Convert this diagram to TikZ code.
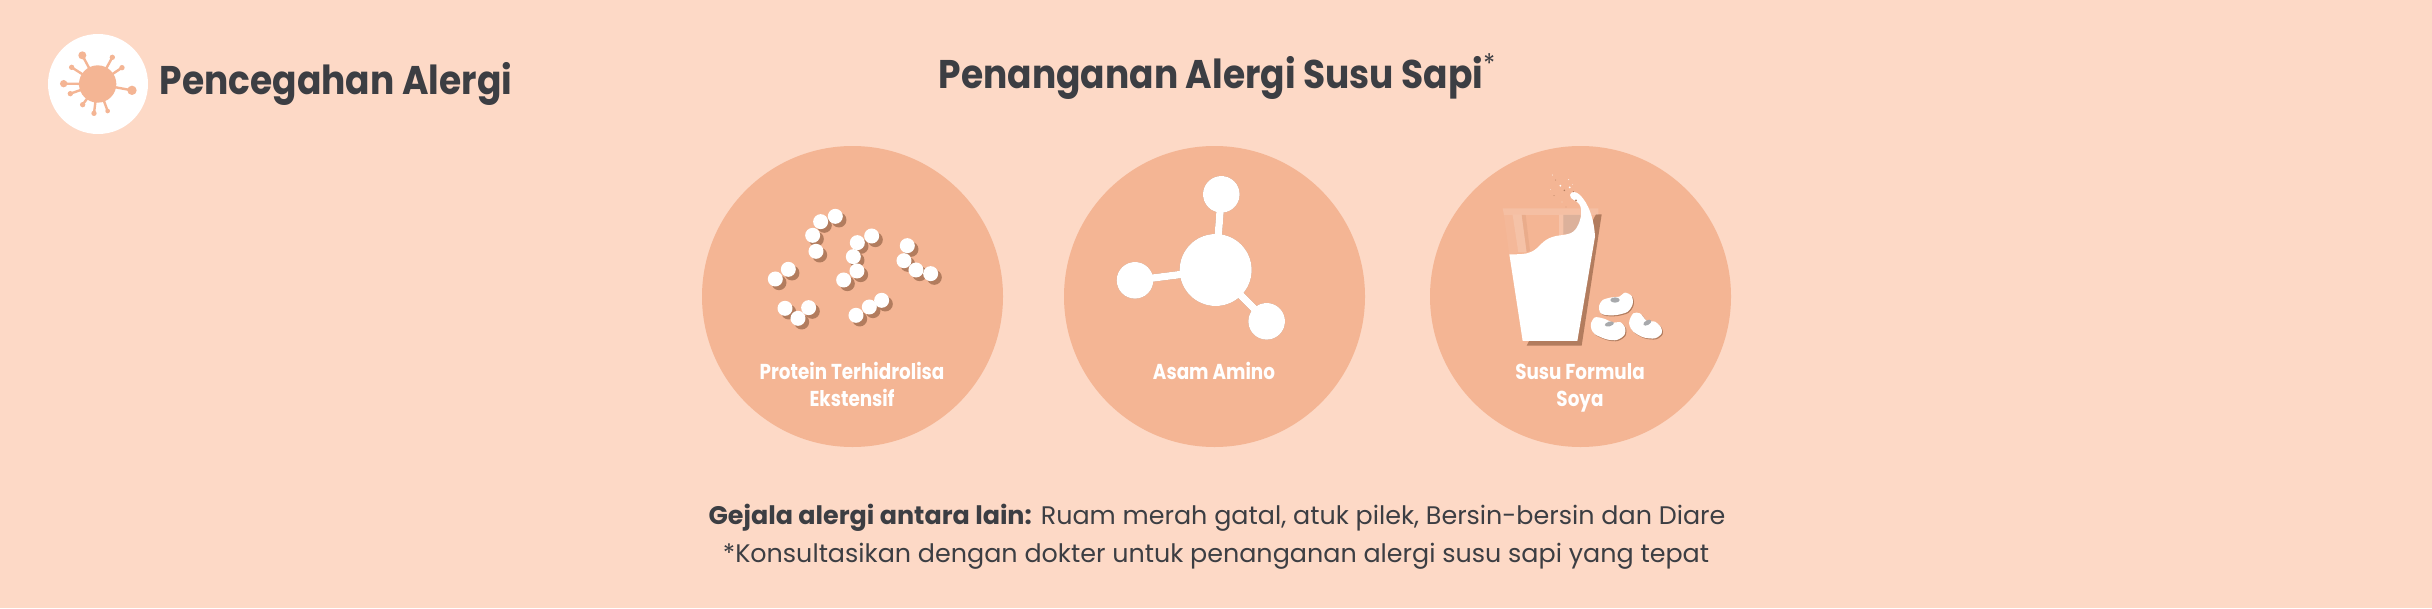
\documentclass[tikz,border=0pt]{standalone}
\usepackage{fontspec}
\usepackage{xcolor}
\setmainfont{Poppins}
\newfontfamily\headfont[FakeStretch=0.9]{Poppins}
\newfontfamily\labelfont[FakeStretch=0.85]{Poppins}
\usetikzlibrary{positioning}
\definecolor{pagetone}{HTML}{FDD9C6}
\definecolor{disctone}{HTML}{F4B594}
\definecolor{inktone}{HTML}{3C3E43}
\definecolor{shadetone}{HTML}{B27C5E}
\definecolor{hilumtone}{HTML}{A7A9AC}

\begin{document}
\begin{tikzpicture}[
  x=1pt, y=-1pt,
  disc/.style={fill=disctone},
  heading/.style={anchor=base, inner sep=0pt, text=inktone, font=\headfont\fontsize{40}{46}\selectfont\bfseries},
  caption/.style={anchor=base, inner sep=0pt, text=white, align=center, font=\labelfont\fontsize{21.6}{27}\selectfont\bfseries},
  note/.style={anchor=base, inner sep=0pt, text=inktone, font=\fontsize{25.4}{32}\selectfont},
  tint/.style={fill=#1, draw=none}
]
\fill[pagetone] (0,0) rectangle (2432,608);
\useasboundingbox (0,0) rectangle (2432,608);

% corner badge
\fill[white] (98,84) circle (50);
\begin{scope}[shift={(40,30)}, x=0.3333pt, y=-0.3333pt]
  \coordinate (virus) at (173,162);
  \fill[disctone] (virus) circle (56);
  \foreach \sx/\sy/\sr in {127/76/12, 217/82/8, 246/113/8, 95/112/8, 71/161/11, 91/191/8, 128/224/8, 162/250/8, 203/243/7, 276/181/14} {
    \draw[disctone, line width=2.4pt] (virus) -- (\sx,\sy);
    \fill[disctone] (\sx,\sy) circle (\sr);
  }
\end{scope}
\node[heading] (sidetitle) at (336,94) {Pencegahan Alergi};

\node[heading] (pagetitle) at (1217,88) {Penanganan Alergi Susu Sapi\raisebox{0.36em}{\fontsize{27}{27}\selectfont\mdseries *}};

% three discs
\fill[disc] (852.5,296.5) circle (150.5);
\fill[disc] (1214.5,296.5) circle (150.5);
\fill[disc] (1580.5,296.5) circle (150.5);

% hydrolysed protein beads
\begin{scope}[shift={(680,140)}, x=0.3333pt, y=-0.3333pt]
  \foreach \tone/\off in {shadetone/11, white/0} {
    \foreach \bx/\by in {466/229, 422/245, 398/286, 408/334, 575/288, 532/308, 520/350, 531/393, 491/420, 682/317, 672/362, 708/390, 752/401, 325/388, 286/417, 315/505, 354/535, 386/503, 528/526, 568/501, 605/481} {
      \fill[\tone] (\bx+\off,\by+\off) circle (22.5);
    }
  }
\end{scope}
\node[caption] (lblprotein) at (852,406) {Protein Terhidrolisa\\Ekstensif};

% amino acid molecule
\begin{scope}[shift={(1050,140)}, x=0.3333pt, y=-0.3333pt]
  \coordinate (hub) at (497,390);
  \coordinate (armtop) at (514,163);
  \coordinate (armleft) at (255,421);
  \coordinate (armright) at (650,544);
  \foreach \tone/\off in {shadetone/11, white/0} {
    \begin{scope}[shift={(\off,\off)}]
      \draw[\tone, line width=7.3pt] (hub) -- (armtop);
      \draw[\tone, line width=7.3pt] (hub) -- (armleft);
      \draw[\tone, line width=7.3pt] (hub) -- (armright);
      \fill[\tone] (hub) circle (108);
      \fill[\tone] (armtop) circle (55);
      \fill[\tone] (armleft) circle (55);
      \fill[\tone] (armright) circle (55);
    \end{scope}
  }
\end{scope}
\node[caption] (lblamino) at (1214,379) {Asam Amino};

% glass of soya milk
\begin{scope}[shift={(1490,165)}, x=0.3333pt, y=-0.3333pt]
  \fill[shadetone] (110,542) -- (275,542) -- (335,148) -- (318,148) -- cycle;
  \fill[tint=white, opacity=.14] (38,130) -- (325,130) -- (325,150) -- (42,150) -- cycle;
  \fill[tint=white, opacity=.05] (42,150) -- (68,150) -- (85,262) -- (58,268) -- cycle;
  \fill[tint=white, opacity=.18] (68,150) -- (95,150) -- (110,262) -- (85,262) -- cycle;
  \fill[tint=shadetone, opacity=.15] (95,150) -- (107,150) -- (120,258) -- (110,262) -- cycle;
  \fill[tint=white, opacity=.2] (207,150) -- (220,150) -- (220,210) -- (207,212) -- cycle;
  \fill[tint=hilumtone, opacity=.3] (220,150) -- (272,150) -- (272,190) -- (240,207) -- (220,208) -- cycle;
  \fill[white] (58,268) .. controls (85,268) and (110,268) .. (125,260)
    .. controls (150,248) and (155,225) .. (190,215)
    .. controls (215,208) and (240,212) .. (255,195)
    .. controls (272,175) and (280,135) .. (268,118)
    .. controls (260,105) and (240,105) .. (240,90)
    .. controls (242,78) and (258,78) .. (270,90)
    .. controls (295,115) and (312,160) .. (315,215)
    -- (262,528) -- (98,528) -- cycle;
  \fill[shadetone] (258,106) circle (3);
  \foreach \dx/\dy/\dr in {211/62/3, 239/67/3, 187/30/1.5, 236/44/1.5, 181/73/1, 247/58/1, 216/111/1} {
    \fill[white] (\dx,\dy) circle (\dr);
  }
  \foreach \dx/\dy/\dr in {197/45/1.5, 223/76/2.5, 250/80/2, 192/92/1.5, 228/126/1} {
    \fill[shadetone] (\dx,\dy) circle (\dr);
  }
\end{scope}

% soya beans
\begin{scope}[shift={(1580,280)}, x=0.3333pt, y=-0.3333pt]
  \foreach \tone/\off in {shadetone/3, white/0} {
    \begin{scope}[shift={(\off,\off)}]
      \fill[\tone] plot[smooth cycle] coordinates {(57,78) (68,60) (95,52) (118,50) (135,38) (155,48) (158,72) (143,95) (110,105) (75,105) (60,97)};
      \fill[\tone] plot[smooth cycle] coordinates {(33,130) (45,112) (72,116) (100,128) (120,126) (135,142) (133,165) (110,180) (80,178) (45,163) (34,147)};
      \fill[\tone] plot[smooth cycle] coordinates {(148,122) (160,100) (180,100) (200,122) (225,125) (243,142) (245,160) (225,175) (190,172) (160,155) (149,138)};
    \end{scope}
  }
  \fill[hilumtone] (105,60) ellipse (14 and 8);
  \fill[hilumtone, rotate around={15:(88,132)}] (88,132) ellipse (14 and 7);
  \fill[hilumtone, rotate around={30:(202,128)}] (202,128) ellipse (13 and 7);
\end{scope}
\node[caption] (lblsoya) at (1580,406) {Susu Formula\\Soya};

% footnotes
\node[note] (symptoms) at (1217,524) {\textbf{Gejala alergi antara lain:} Ruam merah gatal, atuk pilek, Bersin-bersin dan Diare};
\node[note] (advice) at (1216,562) {*Konsultasikan dengan dokter untuk penanganan alergi susu sapi yang tepat};
\end{tikzpicture}
\end{document}
